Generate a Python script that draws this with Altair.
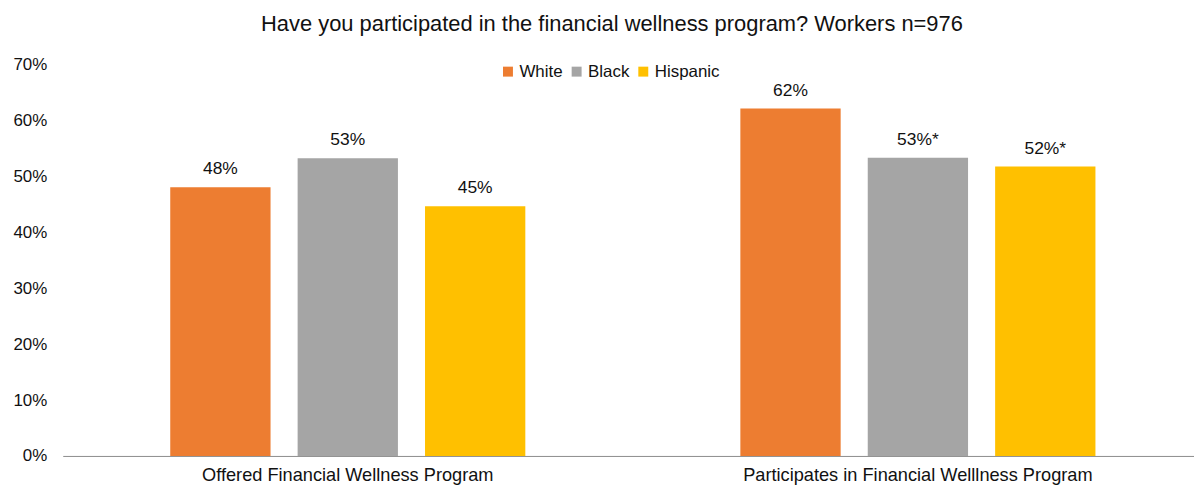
import altair as alt
import pandas as pd

groups = ["Offered Financial Wellness Program", "Participates in Financial Welllness Program"]
races = ["White", "Black", "Hispanic"]
offered = [0.481, 0.533, 0.447]
participates = [0.622, 0.534, 0.518]
offered_labels = ["48%", "53%", "45%"]
participates_labels = ["62%", "53%*", "52%*"]
colors = ["#ED7D31", "#A5A5A5", "#FFC000"]

rows = []
for r, v, l in zip(races, offered, offered_labels):
    rows.append({"group": groups[0], "race": r, "value": v, "label": l})
for r, v, l in zip(races, participates, participates_labels):
    rows.append({"group": groups[1], "race": r, "value": v, "label": l})
df = pd.DataFrame(rows)

FONT = "Liberation Sans"

xscale = alt.Scale(domain=groups, paddingInner=0, paddingOuter=0)
x = alt.X("group:N", sort=groups, title=None, scale=xscale,
          axis=alt.Axis(labelAngle=0, ticks=False, domainColor="#8c8c8c", domainWidth=1,
                        labelFontSize=18.3, labelPadding=11, labelColor="#111111", labelFont=FONT,
                        labelLimit=0))
xo = alt.XOffset("race:N", sort=races,
                 scale=alt.Scale(paddingInner=0.2126, paddingOuter=0.844))
y = alt.Y("value:Q", title=None,
          scale=alt.Scale(domain=[0, 0.7], nice=False),
          axis=alt.Axis(format="%", values=[0, 0.1, 0.2, 0.3, 0.4, 0.5, 0.6, 0.7], grid=False,
                        domain=False, ticks=False, labelFontSize=17, labelPadding=16,
                        labelColor="#111111", labelFont=FONT))

bars = alt.Chart(df).mark_bar().encode(
    x=x, xOffset=xo, y=y,
    color=alt.Color("race:N", sort=races, title=None,
                    scale=alt.Scale(domain=races, range=colors),
                    legend=alt.Legend(orient="none", direction="horizontal", legendX=439, legendY=-2,
                                      symbolType="square", symbolSize=100, symbolStrokeWidth=0,
                                      labelFontSize=17, labelFont=FONT, labelColor="#111111",
                                      labelOffset=3, columnPadding=5, padding=0)),
)

labels = alt.Chart(df).mark_text(fontSize=17.5, font=FONT, color="#111111", dy=-9, baseline="bottom").encode(
    x=alt.X("group:N", sort=groups, scale=xscale), xOffset=alt.XOffset("race:N", sort=races),
    y="value:Q", text="label:N"
)

chart = (bars + labels).properties(
    width=1146, height=393,
    autosize=alt.AutoSizeParams(type="none"),
    padding={"left": 55, "top": 56, "right": -9, "bottom": 28},
    title=alt.TitleParams("Have you participated in the financial wellness program? Workers n=976",
                          fontSize=22, font=FONT, fontWeight="normal", color="#111111",
                          anchor="middle", dx=-21, offset=20),
).configure_view(stroke=None)

chart.save("out.html", embed_options={"renderer": "svg", "actions": False})
